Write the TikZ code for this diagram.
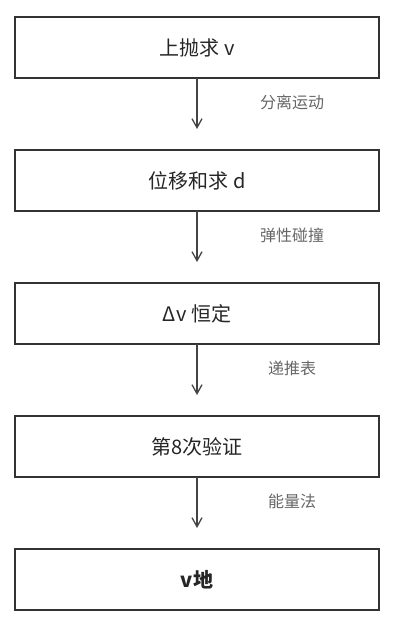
\documentclass[tikz,border=0pt]{standalone}
\usepackage{fontspec}
\setmainfont{Noto Sans CJK SC}
\usepackage{xcolor}
\usetikzlibrary{arrows.meta, positioning}
\definecolor{boxline}{HTML}{333333}
\definecolor{arrline}{HTML}{444444}
\definecolor{lbltext}{HTML}{666666}
\begin{document}
\begin{tikzpicture}[
  x=1pt, y=1pt,
  every node/.style={font=\fontsize{20}{24}\selectfont},
  box/.style={rectangle, draw=boxline, fill=white, line width=1.3pt,
              minimum width=364pt, minimum height=61pt,
              outer sep=0pt, align=center, text=black!85},
  lastbox/.style={box, line width=2.2pt},
  arr/.style={-{Straight Barb[length=9pt, width=10pt]}, color=arrline,
              line width=1.3pt, shorten >=21pt},
  lbl/.style={font=\fontsize{16}{19}\selectfont, color=lbltext}
]
\useasboundingbox (0,0) rectangle (394,-624);
% Steps
\node[box] (up) at (197,-47.5) {上抛求 v};
\node[box, below=72pt of up]   (disp)  {位移和求 d};
\node[box, below=72pt of disp] (dv)    {Δv 恒定};
\node[box, below=72pt of dv]   (check) {第8次验证};
\node[lastbox, below=72pt of check] (vg) {\textbf{v地}};
% Arrows
\draw[arr] (up)    -- (disp)
      node[lbl, pos=0.34, xshift=95pt] {分离运动};
\draw[arr] (disp)  -- (dv)
      node[lbl, pos=0.34, xshift=95pt] {弹性碰撞};
\draw[arr] (dv)    -- (check)
      node[lbl, pos=0.34, xshift=95pt] {递推表};
\draw[arr] (check) -- (vg)
      node[lbl, pos=0.34, xshift=95pt] {能量法};
\end{tikzpicture}
\end{document}
